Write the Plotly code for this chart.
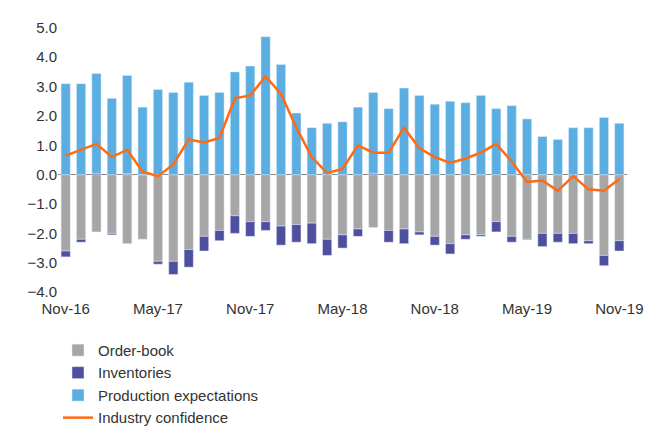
import plotly.graph_objects as go
import pandas as pd

months = pd.date_range("2016-11-01", periods=37, freq="MS").strftime("%b-%y").tolist()
production = [3.1,3.1,3.4,2.6,3.35,2.3,2.9,2.8,3.15,2.7,2.8,3.5,3.7,4.7,3.75,2.1,1.6,1.75,1.8,2.3,2.75,2.25,2.95,2.7,2.4,2.5,2.45,2.7,2.25,2.35,1.9,1.3,1.2,1.6,1.6,1.95,1.75]
orderbook = [-2.6,-2.2,-1.95,-2.0,-2.35,-2.2,-2.95,-2.95,-2.55,-2.1,-1.9,-1.4,-1.6,-1.6,-1.75,-1.7,-1.65,-2.2,-2.05,-1.85,-1.8,-1.9,-1.85,-1.95,-2.1,-2.35,-2.05,-2.05,-1.6,-2.1,-2.2,-2.0,-2.0,-2.0,-2.25,-2.75,-2.25]
inventories = [-0.2,-0.1,0.05,-0.05,0.03,0,-0.1,-0.45,-0.6,-0.5,-0.35,-0.6,-0.5,-0.3,-0.65,-0.6,-0.7,-0.55,-0.45,-0.25,0.05,-0.4,-0.5,-0.1,-0.3,-0.35,-0.15,-0.05,-0.35,-0.2,-0.02,-0.45,-0.3,-0.35,-0.1,-0.35,-0.35]
confidence = [0.65,0.85,1.05,0.6,0.85,0.1,-0.05,0.35,1.2,1.1,1.25,2.6,2.7,3.35,2.75,1.6,0.6,0.05,0.2,1.0,0.75,0.75,1.6,0.9,0.6,0.4,0.55,0.75,1.05,0.45,-0.25,-0.2,-0.55,-0.05,-0.5,-0.55,-0.15]
tick_labels = ["Nov-16","May-17","Nov-17","May-18","Nov-18","May-19","Nov-19"]

fig = go.Figure()
fig.add_bar(x=months, y=orderbook, name="Order-book", marker_color="#a6a6a6", width=0.6)
fig.add_bar(x=months, y=inventories, name="Inventories", marker_color="#4f4fa0", width=0.6)
fig.add_bar(x=months, y=production, name="Production expectations", marker_color="#5aaee2", width=0.6)
fig.add_scatter(x=months, y=confidence, name="Industry confidence", mode="lines",
                line=dict(color="#ff6a13", width=2.5))

fig.update_layout(
    width=654, height=438, barmode="relative", bargap=0.4,
    plot_bgcolor="white", paper_bgcolor="white",
    font=dict(family="Liberation Sans, Arial", size=15, color="#333"),
    margin=dict(l=50, r=35, t=14, b=100),
    legend=dict(orientation="h", x=0.0, y=-0.13, xanchor="left", yanchor="top",
                entrywidth=285, entrywidthmode="pixels", traceorder="normal",
                font=dict(size=15)),
    showlegend=True,
)
fig.update_xaxes(type="category", tickmode="array", tickvals=tick_labels, ticktext=tick_labels,
                 showgrid=False, showline=False, ticks="", tickangle=0)
fig.update_yaxes(range=[-4.2, 5.2], dtick=1, tickformat=".1f", showgrid=False,
                 zeroline=True, zerolinecolor="#888", zerolinewidth=1)
fig.write_html("out.html")
